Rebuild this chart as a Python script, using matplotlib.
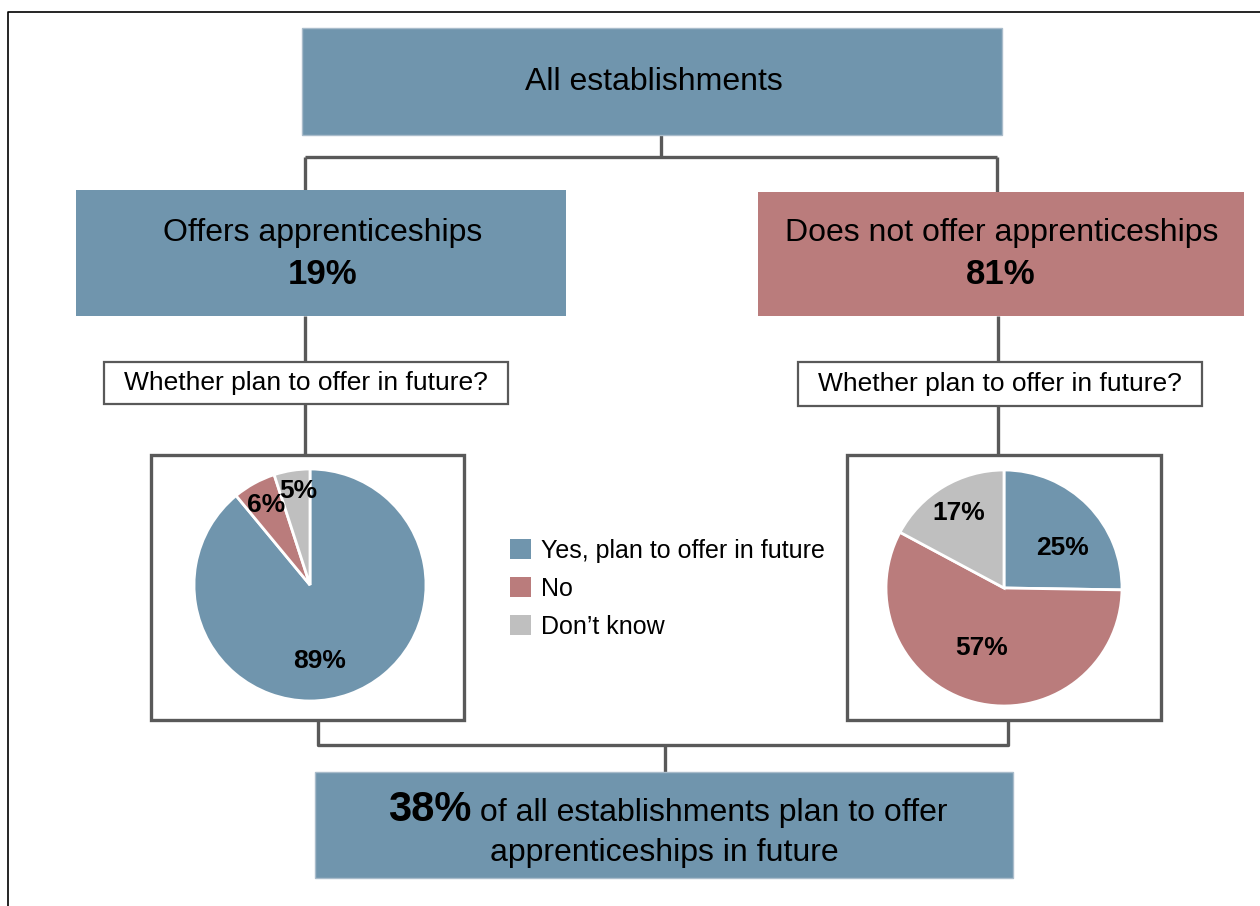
import numpy as np
import matplotlib
matplotlib.use("Agg")
import matplotlib.pyplot as plt
from matplotlib.patches import Rectangle, Patch

plt.rcParams['font.family'] = ['Liberation Sans', 'DejaVu Sans']

# data
answer_labels = ["Yes, plan to offer in future", "No", "Don\u2019t know"]
offers_share = 19
not_offers_share = 81
plan_offers = [89, 6, 5]        # establishments that offer apprenticeships
plan_not_offers = [25, 57, 17]  # establishments that do not offer
overall_plan = 38

blue = '#7095AD'
rose = '#BA7C7C'
grey = '#BFBFBF'
line_col = '#595959'
colors = [blue, rose, grey]

W, H = 1260, 906
fig = plt.figure(figsize=(W / 100, H / 100), dpi=100)
ax = fig.add_axes([0, 0, 1, 1])
ax.set_xlim(0, W)
ax.set_ylim(H, 0)
ax.axis('off')

# outer frame
ax.plot([8, 8, W], [H, 12, 12], color='black', lw=1.2)


def box(x0, y0, x1, y1, fc, ec=None, lw=0):
    ax.add_patch(Rectangle((x0, y0), x1 - x0, y1 - y0, facecolor=fc,
                           edgecolor=ec if ec else fc, lw=lw, zorder=2))


def line(xs, ys):
    ax.plot(xs, ys, color=line_col, lw=2.4, solid_capstyle='butt', zorder=1)


# top box
box(302, 28, 1002, 135, blue, '#A9BCCB', 1)
ax.text(654, 82, "All establishments", ha='center', va='center', fontsize=23, zorder=3)
line([661, 661], [135, 157])
line([305, 997], [157, 157])
line([305, 305], [157, 192])
line([997, 997], [157, 192])

# second level
box(76, 190, 566, 316, blue)
ax.text(323, 233, "Offers apprenticeships", ha='center', va='center', fontsize=23, zorder=3)
ax.text(323, 274, f"{offers_share}%", ha='center', va='center', fontsize=25,
        fontweight='bold', zorder=3)
box(758, 192, 1244, 316, rose)
ax.text(1002, 233, "Does not offer apprenticeships", ha='center', va='center', fontsize=23, zorder=3)
ax.text(1001, 274, f"{not_offers_share}%", ha='center', va='center', fontsize=25,
        fontweight='bold', zorder=3)

# question boxes
for cx, x0, x1, y1 in [(305, 104, 508, 404), (998, 798, 1202, 406)]:
    line([cx, cx], [316, 362])
    box(x0, 362, x1, y1, 'white', line_col, 1.6)
    ax.text((x0 + x1) / 2, (362 + y1) / 2, "Whether plan to offer in future?",
            ha='center', va='center', fontsize=19, zorder=3)
    line([cx, cx], [y1, 455])

# pie frames
box(151, 455, 464, 720, 'white', line_col, 2.4)
box(847, 455, 1161, 720, 'white', line_col, 2.4)

# bottom connectors
line([318, 318, 1008, 1008], [720, 745, 745, 720])
line([665, 665], [745, 772])


def pie(cx, cy, r, values, dists, shifts):
    pax = fig.add_axes([(cx - r) / W, 1 - (cy + r) / H, 2 * r / W, 2 * r / H])
    wedges, _ = pax.pie(values, colors=colors, startangle=90, counterclock=False,
                        wedgeprops=dict(edgecolor='white', linewidth=2))
    pax.set_xlim(-1, 1)
    pax.set_ylim(-1, 1)
    for w, v, d, s in zip(wedges, values, dists, shifts):
        ang = np.deg2rad((w.theta1 + w.theta2) / 2 + s)
        pax.text(d * np.cos(ang), d * np.sin(ang), f"{v}%", ha='center', va='center',
                 fontsize=19, fontweight='bold')
    return wedges


pie(310, 585, 116, plan_offers, [0.66, 0.79, 0.82], [-13, 0, -2])
pie(1004, 588, 118, plan_not_offers, [0.6, 0.54, 0.74], [-10, -6, 0])

# legend
handles = [Patch(facecolor=c) for c in colors]
fig.legend(handles, answer_labels, loc='upper left', frameon=False,
           bbox_to_anchor=(510 / W, 1 - 539 / H), fontsize=18, borderaxespad=0,
           borderpad=0, handlelength=0.85, handleheight=0.85, handletextpad=0.4,
           labelspacing=0.55)

# bottom box
box(315, 772, 1013, 878, blue, '#A9BCCB', 1)
fig.canvas.draw()
r = fig.canvas.get_renderer()
t1 = ax.text(0, 810, f"{overall_plan}%", ha='left', va='center', fontsize=30,
             fontweight='bold', zorder=3)
t2 = ax.text(0, 813, " of all establishments plan to offer", ha='left', va='center',
             fontsize=23, zorder=3)
w1 = t1.get_window_extent(r).width
w2 = t2.get_window_extent(r).width
x_start = 668 - (w1 + w2) / 2
t1.set_x(x_start)
t2.set_x(x_start + w1)
ax.text(664, 853, "apprenticeships in future", ha='center', va='center', fontsize=23, zorder=3)

fig.savefig("out.png", dpi=100)
